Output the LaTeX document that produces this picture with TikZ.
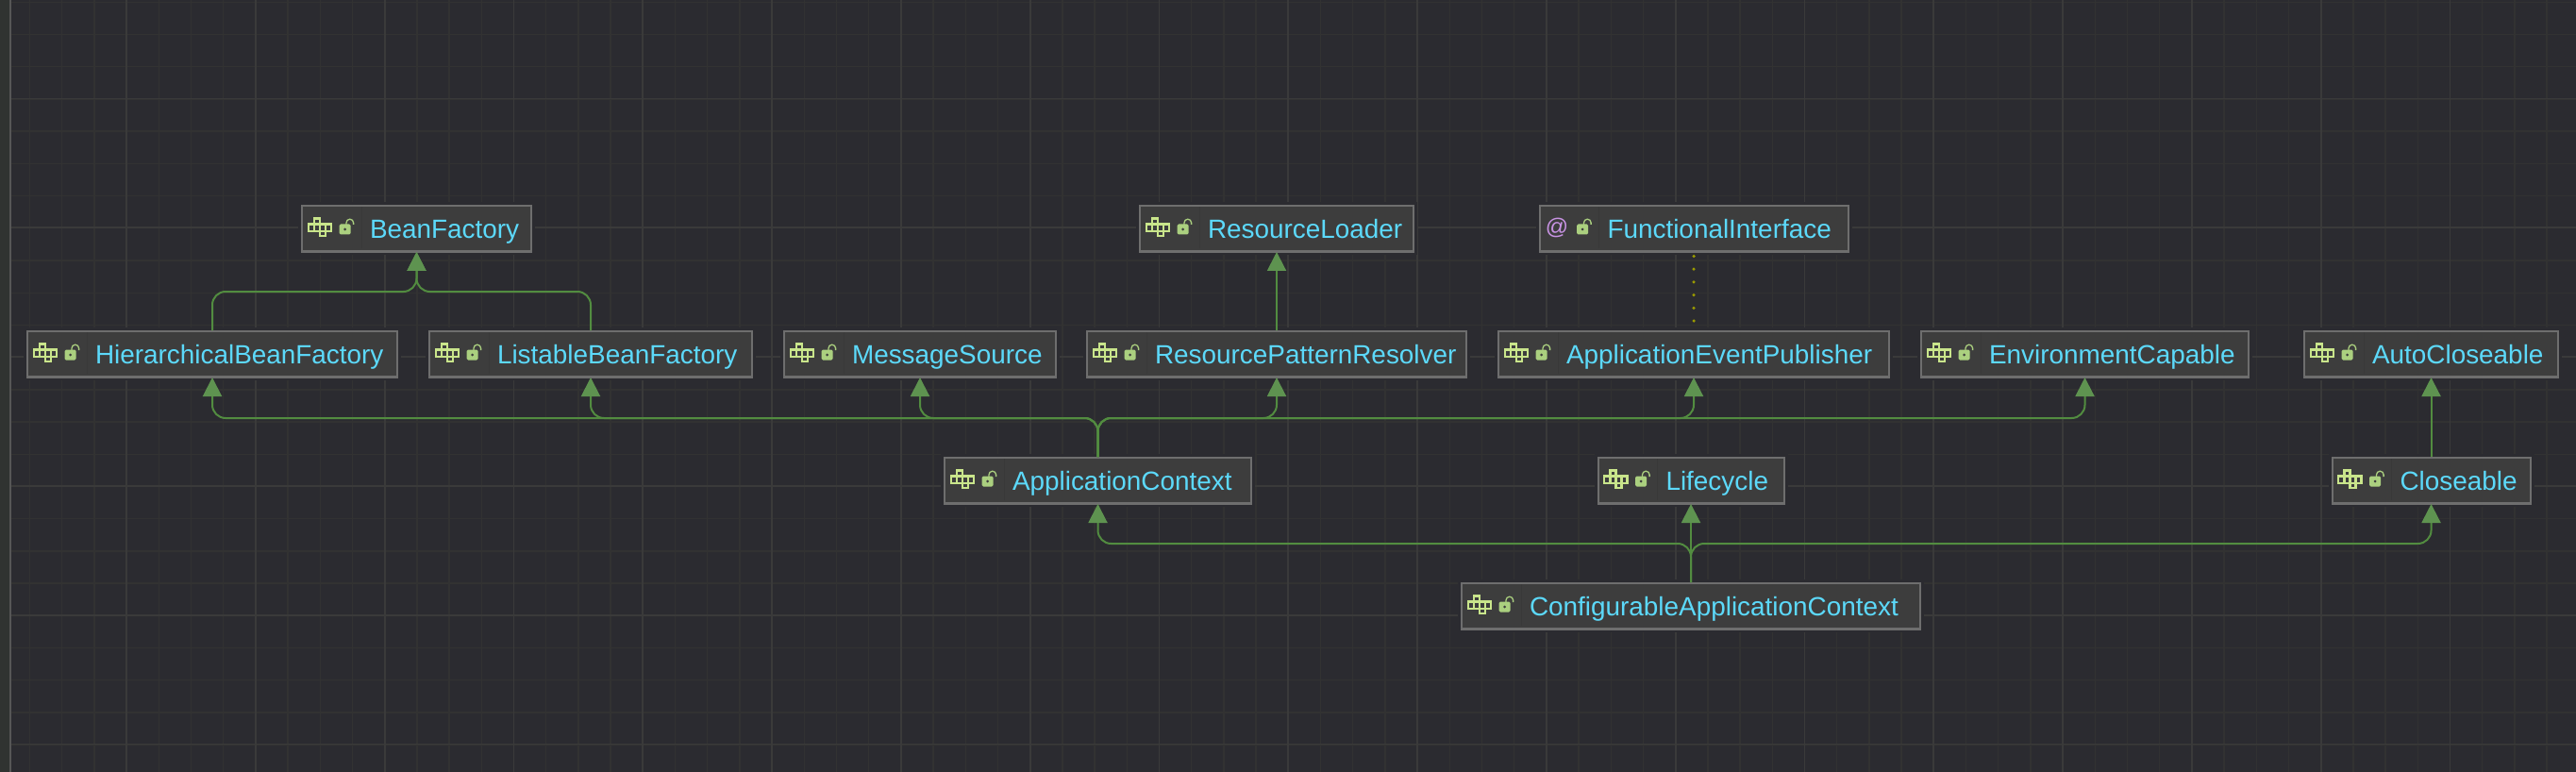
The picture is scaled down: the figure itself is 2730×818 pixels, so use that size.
\documentclass[tikz,border=0pt]{standalone}
\usepackage{fontspec}
\setmainfont{Liberation Sans}
\usepackage{tikz}
\usetikzlibrary{arrows.meta}

\definecolor{bgcol}{HTML}{2B2B30}
\definecolor{stripcol}{HTML}{303331}
\definecolor{edgecol}{HTML}{565656}
\definecolor{minorcol}{HTML}{323232}
\definecolor{majorcol}{HTML}{3A3A3A}
\definecolor{boxcol}{HTML}{3D3D3D}
\definecolor{bordercol}{HTML}{6E6E6E}
\definecolor{textcol}{HTML}{5CD9FA}
\definecolor{ifacecol}{HTML}{C9E58B}
\definecolor{lockcol}{HTML}{ABD07F}
\definecolor{atcol}{HTML}{C893E3}
\definecolor{linecol}{HTML}{528C40}
\definecolor{tipcol}{HTML}{5E9350}
\definecolor{dotcol}{HTML}{9A9A00}

\tikzset{
    ubox/.style={rectangle,draw=bordercol,fill=boxcol,line width=2pt,
        minimum width=#1,minimum height=48pt,
        inner xsep=13pt,inner ysep=0pt,text width=#1pt-26pt,align=left,
        text height=21.5pt,text depth=0pt,text=textcol,
        font=\fontsize{27.9}{30}\selectfont,
        preaction={draw=bgcol,line width=8pt},
        preaction={draw=bordercol,line width=2pt,transform canvas={yshift=-1pt}}},
    uedge/.style={draw=linecol,line width=2pt,rounded corners=14pt,
        -{Triangle[length=20pt,width=20pt,color=tipcol]}},
    ulink/.style={draw=dotcol,line width=3.5pt,line cap=round,
        dash pattern=on 0pt off 13.7pt,shorten <=10pt,shorten >=4pt},
    lockicon/.pic={
        \fill[lockcol,rounded corners=1.5pt] (40.5,20.5) rectangle (52.5,31.5);
        \fill[boxcol] (46.5,26) circle (1.5pt);
        \draw[lockcol,line width=1.3pt] (48,21) -- (48,19) arc[start angle=180,end angle=0,radius=3.8pt] -- (55.6,21);
        \draw[line width=1pt,draw=black,opacity=0.06] (64,2) -- (64,46);
    },
    ifaceicon/.pic={
        \draw[ifacecol,line width=2.2pt] (7.8,20.5) rectangle (32,28)
            (14,20.5) -- (14,28) (20,20.5) -- (20,28) (26,20.5) -- (26,28)
            (14,20.5) -- (14,14.5) -- (20,14.5) -- (20,20.5)
            (20,28) -- (20,33) -- (26,33) -- (26,28);
        \pic {lockicon};
    },
}

\newcommand{\ubox}[5]{\node[ubox=#4] (#1) at (#2,#3) {\hspace*{59pt}\mbox{#5}};}

\begin{document}
\begin{tikzpicture}[x=1pt,y=-1pt]
    \useasboundingbox (0,0) rectangle (2730,818);
    \fill[bgcol] (0,0) rectangle (2730,818);

    % grid
    \foreach \i in {0,...,79} \draw[minorcol,line width=1.4pt] ({31.4+34.2*\i},0) -- ({31.4+34.2*\i},818);
    \foreach \i in {0,...,23} \draw[minorcol,line width=1.4pt] (12,{2.4+34.2*\i}) -- (2730,{2.4+34.2*\i});
    \foreach \i in {0,...,19} \draw[majorcol,line width=1.8pt] ({134+136.8*\i},0) -- ({134+136.8*\i},818);
    \foreach \i in {0,...,5} \draw[majorcol,line width=1.8pt] (12,{104.5+136.8*\i}) -- (2730,{104.5+136.8*\i});
    \fill[stripcol] (0,0) rectangle (10,818);
    \fill[edgecol] (10,0) rectangle (12,818);

    % boxes
    \ubox{bf}{441.5}{242}{243}{BeanFactory}
    \ubox{rl}{1353}{242}{290}{ResourceLoader}
    \ubox{fi}{1795}{242}{327}{FunctionalInterface}
    \ubox{hbf}{225}{375}{392}{HierarchicalBeanFactory}
    \ubox{lbf}{626}{375}{342}{ListableBeanFactory}
    \ubox{ms}{975}{375}{288}{MessageSource}
    \ubox{rpr}{1353}{375}{402}{ResourcePatternResolver}
    \ubox{aep}{1795}{375}{414}{ApplicationEventPublisher}
    \ubox{ec}{2209.5}{375}{347}{EnvironmentCapable}
    \ubox{acl}{2576.5}{375}{269}{AutoCloseable}
    \ubox{ac}{1163.5}{509}{325}{ApplicationContext}
    \ubox{lc}{1792}{509}{197}{Lifecycle}
    \ubox{cl}{2576.5}{509}{210}{Closeable}
    \ubox{cac}{1792}{642}{486}{ConfigurableApplicationContext}

    % icons
    \foreach \n in {bf,rl,hbf,lbf,ms,rpr,aep,ec,acl,ac,lc,cl,cac}
        \pic at (\n.north west) {ifaceicon};
    \pic at (fi.north west) {lockicon};
    \node[text=atcol,inner sep=0pt,font=\fontsize{24}{24}\selectfont] (fiat) at ([xshift=19.5pt,yshift=-24pt]fi.north west) {@};

    % edges
    \draw[uedge] (hbf.north) |- ([yshift=-42pt]bf.south) -- (bf.south);
    \draw[uedge] (lbf.north) |- ([yshift=-42pt]bf.south) -- (bf.south);
    \draw[uedge] (rpr.north) -- (rl.south);
    \draw[ulink] (aep.north) -- (fi.south);

    \draw[uedge] (ac.north) |- ([yshift=-43pt]hbf.south) -- (hbf.south);
    \draw[uedge] (ac.north) |- ([yshift=-43pt]lbf.south) -- (lbf.south);
    \draw[uedge] (ac.north) |- ([yshift=-43pt]ms.south) -- (ms.south);
    \draw[uedge] (ac.north) |- ([yshift=-43pt]rpr.south) -- (rpr.south);
    \draw[uedge] (ac.north) |- ([yshift=-43pt]aep.south) -- (aep.south);
    \draw[uedge] (ac.north) |- ([yshift=-43pt]ec.south) -- (ec.south);

    \draw[uedge] (cac.north) |- ([yshift=-42pt]ac.south) -- (ac.south);
    \draw[uedge] (cac.north) -- (lc.south);
    \draw[uedge] (cac.north) |- ([yshift=-42pt]cl.south) -- (cl.south);
    \draw[uedge] (cl.north) -- (acl.south);
\end{tikzpicture}
\end{document}
